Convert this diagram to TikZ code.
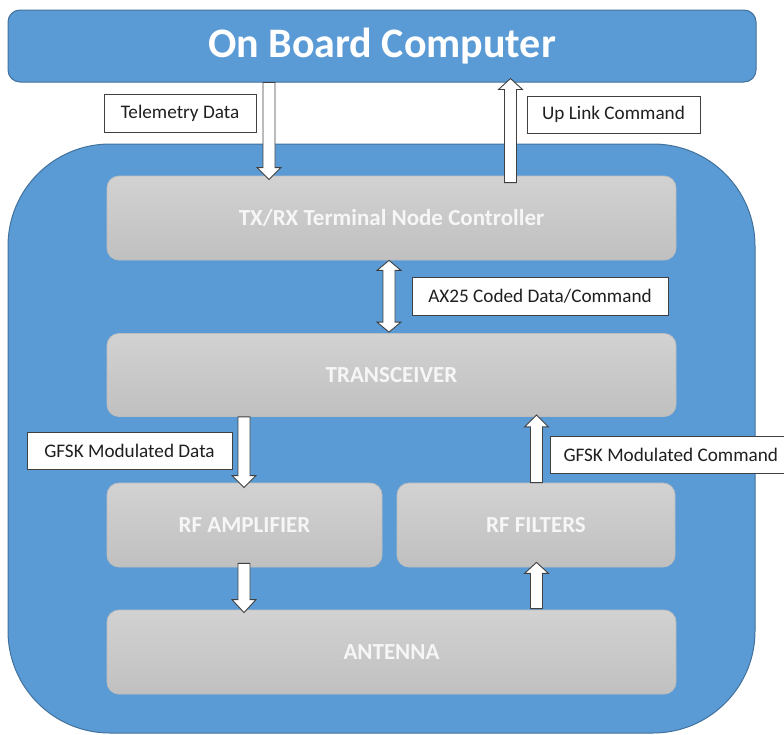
\documentclass[tikz,border=0pt]{standalone}
\usepackage{fontspec}
\setmainfont{Carlito}
\usetikzlibrary{calc}

\definecolor{obcblue}{HTML}{5B9BD5}
\definecolor{obcedge}{HTML}{41719C}
\definecolor{boxtop}{HTML}{D2D2D2}
\definecolor{boxbot}{HTML}{C0C0C0}
\definecolor{boxedge}{HTML}{BDBDBD}
\definecolor{boxtext}{HTML}{F6F6F6}
\definecolor{arrowedge}{HTML}{404040}

\tikzset{
  panel/.style={fill=obcblue, draw=obcedge, line width=1pt},
  unit/.style={rounded corners=12pt, top color=boxtop, bottom color=boxbot,
    draw=boxedge, line width=0.8pt, text=boxtext,
    font=\fontsize{23}{26}\selectfont\bfseries},
  tag/.style={draw=arrowedge, fill=white, line width=1pt,
    font=\fontsize{19.2}{22}\selectfont, text=black!88, inner sep=0pt},
  blockarrow/.style={fill=white, draw=arrowedge, line width=0.9pt, line join=miter},
}

% single block arrow: #1 head length, #2 tail point, #3 tip point (vertical)
\newcommand\flowarrow[3][12]{%
  \draw[blockarrow] let \p1=#2, \p2=#3, \n1={sign(\y2-\y1)} in
    ({\x1-6pt},\y1) -- ({\x1-6pt},{\y2-(\n1)*#1pt}) -- ({\x1-12pt},{\y2-(\n1)*#1pt})
    -- (\x2,\y2) -- ({\x1+12pt},{\y2-(\n1)*#1pt}) -- ({\x1+6pt},{\y2-(\n1)*#1pt})
    -- ({\x1+6pt},\y1) -- cycle;
}
% double-headed block arrow: #1 upper tip, #2 lower tip
\newcommand\twowayarrow[2]{%
  \draw[blockarrow] let \p1=#1, \p2=#2 in
    (\x1,\y1) -- ({\x1+12pt},{\y1-10pt}) -- ({\x1+6pt},{\y1-10pt})
    -- ({\x1+6pt},{\y2+10pt}) -- ({\x1+12pt},{\y2+10pt}) -- (\x2,\y2)
    -- ({\x1-12pt},{\y2+10pt}) -- ({\x1-6pt},{\y2+10pt})
    -- ({\x1-6pt},{\y1-10pt}) -- ({\x1-12pt},{\y1-10pt}) -- cycle;
}

\begin{document}
\begin{tikzpicture}[x=1pt, y=-1pt]
\useasboundingbox (0,0) rectangle (784,734);
\clip (0,0) rectangle (784,734);

% on board computer
\node[panel, rounded corners=12pt, minimum width=748pt, minimum height=72pt,
  text=white, font=\fontsize{42}{46}\selectfont\bfseries] (obc) at (382,46) {On Board Computer};

% communication subsystem panel
\node[panel, rounded corners=102pt, minimum width=747pt, minimum height=589pt] (comm) at (381.5,438.5) {};

% functional units
\node[unit, minimum width=569pt, minimum height=84pt] (tnc) at (391.5,218) {TX/RX Terminal Node Controller};
\node[unit, minimum width=569pt, minimum height=83pt] (trx) at (391.5,375) {TRANSCEIVER};
\node[unit, minimum width=275pt, minimum height=84pt] (amp) at (244.5,525) {RF AMPLIFIER};
\node[unit, minimum width=278pt, minimum height=84pt] (filt) at (536,525) {RF FILTERS};
\node[unit, minimum width=569pt, minimum height=84pt] (ant) at (391.5,652) {ANTENNA};

% arrow columns
\coordinate (xtm) at (269,0);
\coordinate (xup) at (510.5,0);
\coordinate (xax) at (389,0);
\coordinate (xtx) at (244,0);
\coordinate (xrx) at (536.5,0);

% data flow
\flowarrow{(obc.south -| xtm)}{($(tnc.north -| xtm)+(0,4)$)}
\flowarrow[11]{($(tnc.north -| xup)+(0,7)$)}{($(obc.south -| xup)+(0,-4)$)}
\twowayarrow{(tnc.south -| xax)}{($(trx.north -| xax)+(0,-1)$)}
\flowarrow{(trx.south -| xtx)}{($(amp.north -| xtx)+(0,5)$)}
\flowarrow[13]{($(amp.south -| xtx)+(0,-4)$)}{($(ant.north -| xtx)+(0,3)$)}
\flowarrow[12]{(filt.north -| xrx)}{($(trx.south -| xrx)+(0,-2)$)}
\flowarrow[11]{($(ant.north -| xrx)+(0,-1)$)}{($(filt.south -| xrx)+(0,-5)$)}

% flow labels
\node[tag, minimum width=152pt, minimum height=38pt] (ltm) at (180,113) {Telemetry Data};
\node[tag, minimum width=173pt, minimum height=37pt] (lup) at (613.5,114.5) {Up Link Command};
\node[tag, minimum width=256pt, minimum height=38pt] (lax) at (540,296) {AX25 Coded Data/Command};
\node[tag, minimum width=205pt, minimum height=37pt] (ltx) at (129.5,450.5) {GFSK Modulated Data};
\node[tag, anchor=west, inner xsep=13pt, minimum height=37pt] (lrx) at (550,454.5) {GFSK Modulated Command};
\end{tikzpicture}
\end{document}
